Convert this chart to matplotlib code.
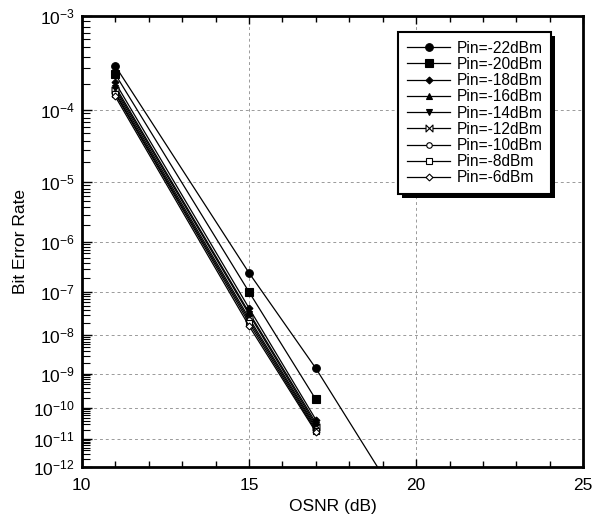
import numpy as np
import matplotlib
matplotlib.use("Agg")
import matplotlib.pyplot as plt
from matplotlib.path import Path
from matplotlib.ticker import FixedLocator, FixedFormatter, MultipleLocator
import matplotlib.patheffects as pe

plt.rcParams['font.family'] = ['Liberation Sans', 'DejaVu Sans']
plt.rcParams['mathtext.fontset'] = 'custom'
plt.rcParams['mathtext.rm'] = 'Liberation Sans'
plt.rcParams['mathtext.it'] = 'Liberation Sans:italic'

# data
osnr = [11, 15, 17]
labels = ['Pin=-22dBm', 'Pin=-20dBm', 'Pin=-18dBm', 'Pin=-16dBm', 'Pin=-14dBm',
          'Pin=-12dBm', 'Pin=-10dBm', 'Pin=-8dBm', 'Pin=-6dBm']
ber_m22 = [3.2e-4, 2.5e-7, 1.4e-9]
ber_m20 = [2.6e-4, 1.0e-7, 1.8e-10]
ber_m18 = [2.1e-4, 4.4e-8, 4.3e-11]
ber_m16 = [1.9e-4, 3.5e-8, 3.4e-11]
ber_m14 = [1.8e-4, 3.2e-8, 2.9e-11]
ber_m12 = [1.7e-4, 2.6e-8, 2.5e-11]
ber_m10 = [1.6e-4, 2.3e-8, 2.2e-11]
ber_m8 = [1.55e-4, 2.0e-8, 1.9e-11]
ber_m6 = [1.45e-4, 1.7e-8, 1.7e-11]
# extrapolated fit for -22 dBm, runs off the bottom of the axes
fit_osnr = [17, 19]
fit_ber = [1.4e-9, 5e-13]

decades = [1e-3, 1e-4, 1e-5, 1e-6, 1e-7, 1e-8, 1e-9, 1e-10, 1e-11, 1e-12]
decade_labels = ['$10^{-%d}$' % k for k in range(3, 13)]

series = [ber_m22, ber_m20, ber_m18, ber_m16, ber_m14, ber_m12, ber_m10, ber_m8, ber_m6]

bowtie = Path([(-1, -1), (1, 1), (1, -1), (-1, 1), (-1, -1)],
              [Path.MOVETO, Path.LINETO, Path.LINETO, Path.LINETO, Path.CLOSEPOLY])
styles = [
    dict(marker='o', ms=5.5, mfc='black'),
    dict(marker='s', ms=5.5, mfc='black'),
    dict(marker='D', ms=3.5, mfc='black'),
    dict(marker='^', ms=4.5, mfc='black'),
    dict(marker='v', ms=4.5, mfc='black'),
    dict(marker=bowtie, ms=5, mfc='white'),
    dict(marker='o', ms=4, mfc='white'),
    dict(marker='s', ms=4.5, mfc='white'),
    dict(marker='D', ms=3.5, mfc='white'),
]


def fwd(y):
    y = np.clip(np.asarray(y, dtype=float), 1e-300, 0.999999)
    return -np.log10(-np.log10(y))


def inv(v):
    return 10 ** (-(10 ** (-np.asarray(v, dtype=float))))


fig = plt.figure(figsize=(5.97, 5.22), dpi=100)
ax = fig.add_axes([0.137, 0.105, 0.840, 0.864])
ax.set_yscale('function', functions=(fwd, inv))

for vals, lab, st in zip(series, labels, styles):
    ax.plot(osnr, vals, color='black', lw=0.9, mec='black', mew=0.8,
            label=lab, **st)
ax.plot(fit_osnr, fit_ber, color='black', lw=0.9)

ax.set_xlim(10, 25)
ax.set_ylim(1e-12, 1e-3)

ax.xaxis.set_major_locator(MultipleLocator(5))
ax.xaxis.set_minor_locator(MultipleLocator(1))
minors = [m * d for d in decades[1:] for m in range(2, 10)]
ax.yaxis.set_major_locator(FixedLocator(decades))
ax.yaxis.set_major_formatter(FixedFormatter(decade_labels))
ax.yaxis.set_minor_locator(FixedLocator(minors))

ax.tick_params(axis='x', which='both', direction='in', top=True, labelsize=12.5, pad=8)
ax.tick_params(axis='x', which='major', length=6, width=1)
ax.tick_params(axis='x', which='minor', length=4, width=1)
ax.tick_params(axis='y', which='both', direction='in', right=False, labelsize=12.5, pad=5)
ax.tick_params(axis='y', which='major', length=7, width=1)
ax.tick_params(axis='y', which='minor', length=6, width=0.8)

ax.grid(True, which='major', color='#9a9a9a', lw=0.7, ls=(0, (3, 3)))
for s in ax.spines.values():
    s.set_linewidth(2)

ax.set_xlabel('OSNR (dB)', fontsize=12.5, labelpad=4)
ax.set_ylabel('Bit Error Rate', fontsize=12.5, labelpad=4)

leg = ax.legend(loc='upper right', bbox_to_anchor=(0.936, 0.965), fontsize=11.2,
                frameon=True, fancybox=False, shadow=False, framealpha=1,
                labelspacing=0.08, handlelength=2.8, handletextpad=0.4,
                borderpad=0.55, borderaxespad=0)
frame = leg.get_frame()
frame.set_facecolor('white')
frame.set_edgecolor('black')
frame.set_linewidth(1.5)
frame.set_path_effects([pe.SimplePatchShadow(offset=(3, -3), shadow_rgbFace='black', alpha=1),
                        pe.Normal()])

fig.savefig('out.png', dpi=100)
